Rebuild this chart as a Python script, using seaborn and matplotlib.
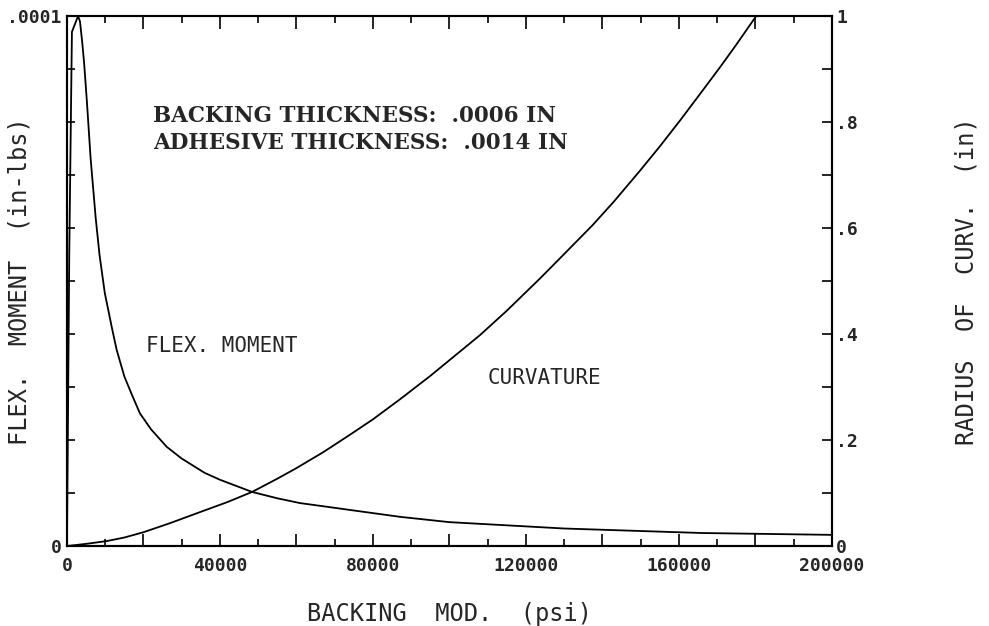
import numpy as np
import pandas as pd
import matplotlib
matplotlib.use('Agg')
import matplotlib.pyplot as plt
import seaborn as sns
from matplotlib.ticker import MultipleLocator, FuncFormatter

# Values
flex_mod = [0, 600, 1300, 2900, 3400, 4000, 4500, 5200, 6200, 7500, 8500, 9900,
            11800, 13000, 15000, 17000, 19100, 22000, 26100, 30000, 36000, 40000,
            48400, 55000, 60900, 68000, 74000, 87100, 100000, 130000, 166000, 200000]
flex_moment = [0, 0.55e-4, 0.97e-4, 1.0e-4, 0.99e-4, 0.95e-4, 0.91e-4, 0.84e-4,
               0.73e-4, 0.62e-4, 0.55e-4, 0.477e-4, 0.41e-4, 0.37e-4, 0.32e-4,
               0.285e-4, 0.25e-4, 0.22e-4, 0.187e-4, 0.165e-4, 0.138e-4, 0.125e-4,
               0.102e-4, 0.09e-4, 0.081e-4, 0.074e-4, 0.068e-4, 0.055e-4, 0.045e-4,
               0.033e-4, 0.0245e-4, 0.021e-4]

curv_mod = [0, 5000, 10500, 15000, 20000, 26900, 34800, 42000, 48400, 55000,
            60000, 67000, 74000, 80000, 87100, 95000, 108000, 115000, 123700,
            130000, 137500, 143000, 149800, 155000, 160300, 165000, 170700,
            175000, 180100]
curvature = [0, 0.004, 0.0094, 0.016, 0.026, 0.043, 0.064, 0.083, 0.102, 0.127,
             0.147, 0.177, 0.210, 0.239, 0.277, 0.321, 0.398, 0.444, 0.505, 0.551,
             0.606, 0.650, 0.708, 0.754, 0.803, 0.848, 0.903, 0.946, 0.999]

df_flex = pd.DataFrame({'mod': flex_mod, 'val': flex_moment})
df_curv = pd.DataFrame({'mod': curv_mod, 'val': curvature})

sns.set_style('white')
plt.rcParams['font.family'] = ['DejaVu Sans Mono', 'DejaVu Sans']

fig = plt.figure(figsize=(9.89, 6.26), dpi=100)
ax = fig.add_axes([0.0677, 0.1278, 0.7735, 0.8466])
ax2 = ax.twinx()

sns.lineplot(data=df_flex, x='mod', y='val', ax=ax, color='black', lw=1.3)
sns.lineplot(data=df_curv, x='mod', y='val', ax=ax2, color='black', lw=1.3)

ax.set_xlim(0, 200000)
ax.set_ylim(0, 1e-4)
ax2.set_ylim(0, 1)

for a in (ax, ax2):
    for s in a.spines.values():
        s.set_linewidth(1.5)
        s.set_color('black')

# x ticks
ax.xaxis.set_major_locator(MultipleLocator(20000))
ax.xaxis.set_minor_locator(MultipleLocator(10000))
ax.xaxis.set_major_formatter(FuncFormatter(
    lambda v, p: f'{int(v)}' if int(v) % 40000 == 0 else ''))
ax.tick_params(axis='x', which='both', direction='in', top=True, bottom=True,
               labelsize=13, pad=8, color='black', width=1.2)
ax.tick_params(axis='x', which='major', length=9)
ax.tick_params(axis='x', which='minor', length=5)

# left y ticks
ax.yaxis.set_major_locator(MultipleLocator(1e-4))
ax.yaxis.set_minor_locator(MultipleLocator(1e-5))
ax.yaxis.set_major_formatter(FuncFormatter(
    lambda v, p: '0' if v == 0 else '.0001'))
ax.tick_params(axis='y', which='both', direction='in', left=True, right=False,
               labelsize=13, pad=4, color='black', width=1.2, length=6)

# right y ticks
ax2.yaxis.set_major_locator(MultipleLocator(0.2))
ax2.yaxis.set_minor_locator(MultipleLocator(0.1))
ax2.yaxis.set_major_formatter(FuncFormatter(
    lambda v, p: '0' if v == 0 else ('1' if abs(v - 1) < 1e-9 else f'{v:.1f}'[1:])))
ax2.tick_params(axis='y', which='both', direction='in', right=True,
                labelsize=13, pad=3, color='black', width=1.2, length=7)

for lbl in ax.get_xticklabels() + ax.get_yticklabels() + ax2.get_yticklabels():
    lbl.set_fontweight('bold')

ax.set_xlabel('BACKING  MOD.  (psi)', fontsize=17)
ax.xaxis.set_label_coords(0.5, -0.105)
ax.set_ylabel('FLEX.  MOMENT  (in-lbs)', fontsize=17)
ax.yaxis.set_label_coords(-0.047, 0.5)
ax2.set_ylabel('RADIUS  OF  CURV.  (in)', fontsize=17)
ax2.yaxis.set_label_coords(1.16, 0.5)

ax.text(0.112, 0.811, 'BACKING THICKNESS:  .0006 IN', transform=ax.transAxes,
        fontsize=15.5, fontweight='bold', family='DejaVu Serif', va='center')
ax.text(0.112, 0.761, 'ADHESIVE THICKNESS:  .0014 IN', transform=ax.transAxes,
        fontsize=15.5, fontweight='bold', family='DejaVu Serif', va='center')
ax.text(0.103, 0.377, 'FLEX. MOMENT', transform=ax.transAxes, fontsize=15,
        va='center')
ax.text(0.550, 0.317, 'CURVATURE', transform=ax.transAxes, fontsize=15,
        va='center')

fig.savefig('out.png', dpi=100)
